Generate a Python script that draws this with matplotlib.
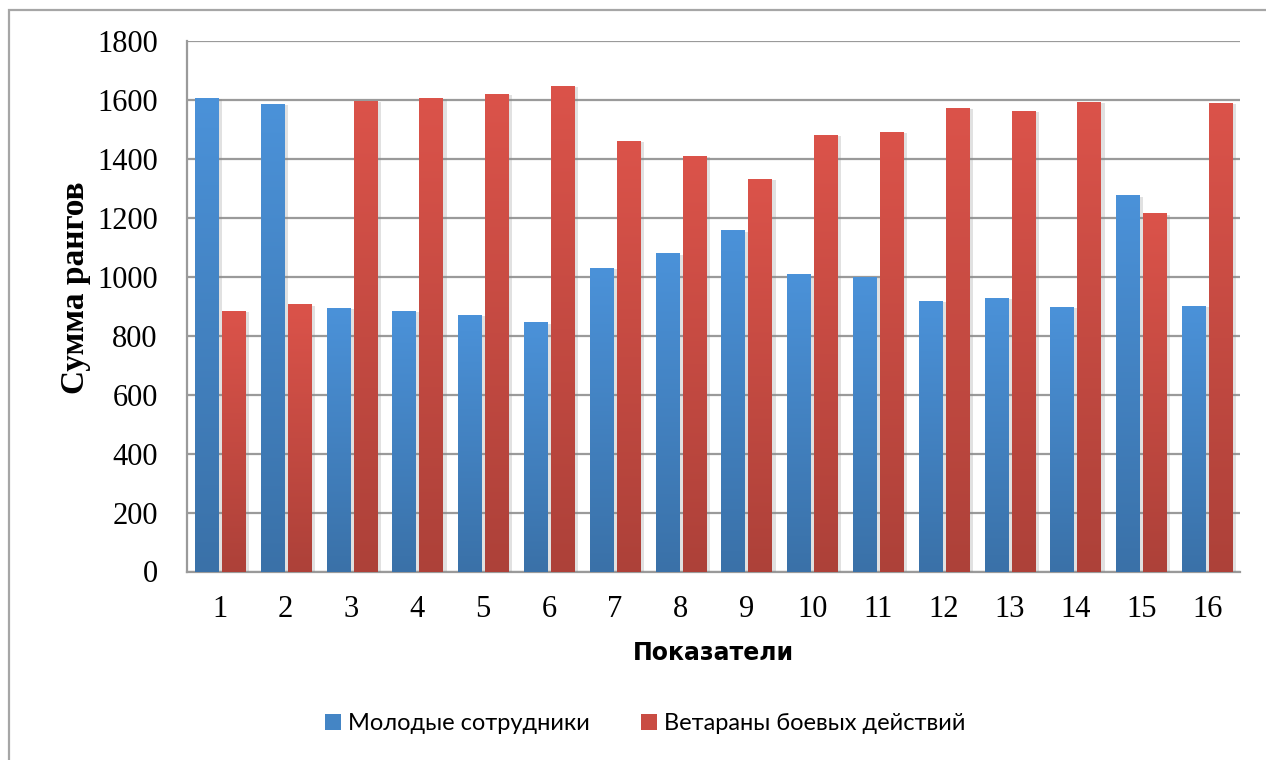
import numpy as np
import matplotlib
matplotlib.use("Agg")
import matplotlib.pyplot as plt
import matplotlib.patheffects as pe
from matplotlib.colors import LinearSegmentedColormap
from matplotlib.patches import Rectangle

categories = [str(i) for i in range(1, 17)]
young = [1607, 1587, 895, 885, 872, 845, 1030, 1080, 1158, 1009, 1000, 919, 929, 899, 1276, 902]
veterans = [885, 906, 1597, 1607, 1620, 1647, 1462, 1411, 1333, 1482, 1492, 1573, 1563, 1593, 1216, 1590]
series_names = ["Молодые сотрудники", "Ветараны боевых действий"]

blue_cmap = LinearSegmentedColormap.from_list("b", ["#3a71a8", "#4b92d9"])
red_cmap = LinearSegmentedColormap.from_list("r", ["#ad4139", "#db534a"])

serif = "Liberation Serif"
sans = "Lato"

fig = plt.figure(figsize=(12.66, 7.6), dpi=100)
ax = fig.add_axes([187 / 1266, 1 - 571.5 / 760, (1240 - 187) / 1266, (571.5 - 41) / 760])

# outer chart frame (cut by the image edge on the right and bottom)
fig.patches.append(Rectangle((9 / 1266, -0.2), 1.5, 1.2 - 10 / 760, transform=fig.transFigure,
                             fill=False, edgecolor="#a6a6a6", linewidth=1.6, clip_on=False))

x = np.arange(len(categories))
w = 0.35
off = 0.205
shadow = [pe.SimplePatchShadow(offset=(3, -1), shadow_rgbFace="#888888", alpha=0.25), pe.Normal()]

gradient = np.linspace(0, 1, 256).reshape(-1, 1)
for vals, sign, cmap, label in [(young, -1, blue_cmap, series_names[0]),
                                (veterans, 1, red_cmap, series_names[1])]:
    bars = ax.bar(x + sign * off, vals, width=w, color=cmap(0.6), label=label, zorder=3)
    for b in bars:
        b.set_path_effects(shadow)
        bx, by = b.get_x(), b.get_y()
        bw, bh = b.get_width(), b.get_height()
        im = ax.imshow(gradient, extent=[bx, bx + bw, by, by + bh], origin="lower",
                       aspect="auto", cmap=cmap, zorder=4)
        im.set_clip_path(b)

ax.set_xlim(-0.5, len(categories) - 0.5)
ax.set_ylim(0, 1800)
ax.set_yticks(range(0, 1801, 200))
ax.set_xticks(x)
ax.set_xticklabels(categories)
ax.grid(axis="y", color="#9a9a9a", linewidth=1.6, zorder=0)
ax.set_axisbelow(True)
for s in ["top", "right"]:
    ax.spines[s].set_visible(False)
for s in ["left", "bottom"]:
    ax.spines[s].set_color("#9a9a9a")
    ax.spines[s].set_linewidth(1.6)
ax.tick_params(length=0)
ax.tick_params(axis="y", pad=21, labelsize=22)
ax.tick_params(axis="x", pad=17, labelsize=22)
for t in ax.get_xticklabels() + ax.get_yticklabels():
    t.set_fontfamily(serif)

ax.set_ylabel("Сумма рангов", fontsize=24, fontweight="bold", fontfamily=serif, va="center")
ax.yaxis.set_label_coords(-0.106, 0.534)
ax.set_xlabel("Показатели", fontsize=17, fontweight="bold", fontfamily="DejaVu Sans", va="center")
ax.xaxis.set_label_coords(0.5, -0.154)

labels = series_names
handles = [Rectangle((0, 0), 1, 1, facecolor=blue_cmap(0.6)), Rectangle((0, 0), 1, 1, facecolor=red_cmap(0.6))]
fig.legend(handles, labels, loc="center", bbox_to_anchor=(645 / 1266, 1 - 724 / 760), ncol=2,
           frameon=False, prop={"family": sans, "size": 17}, handlelength=0.68, handleheight=0.68,
           handletextpad=0.3, columnspacing=2.15)

fig.savefig("out.png", dpi=100)
